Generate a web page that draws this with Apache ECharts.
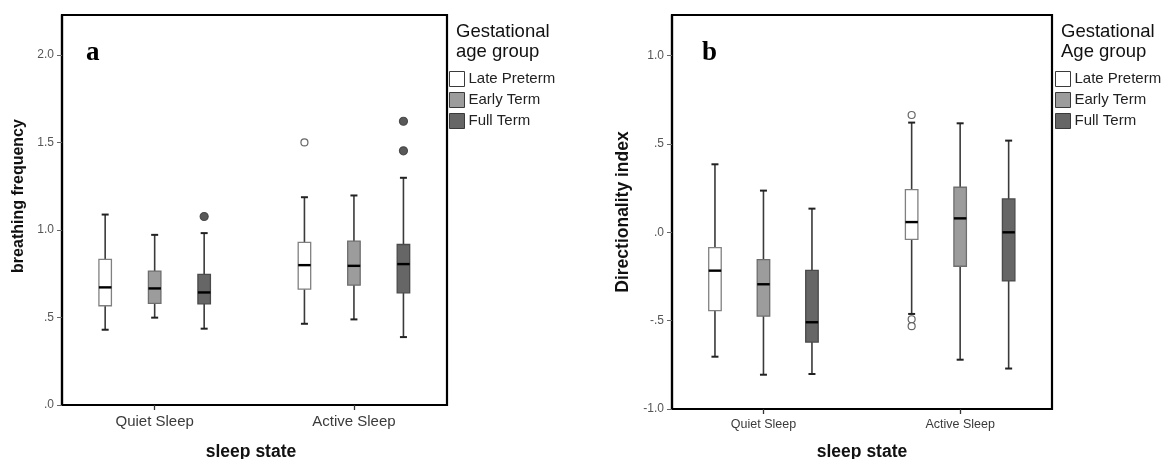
<!DOCTYPE html>
<html>
<head>
<meta charset="utf-8">
<script src="https://cdn.jsdelivr.net/npm/echarts@6/dist/echarts.min.js"></script>
<style>
html,body{margin:0;padding:0;background:#fff;}
#chart{width:1166px;height:459px;}
</style>
</head>
<body>
<div id="chart"></div>
<script>
// ---------- data ----------
const categories = ['Quiet Sleep', 'Active Sleep'];
const groups = ['Late Preterm', 'Early Term', 'Full Term'];

// panel a: breathing frequency, per category [lowWhisker, Q1, median, Q3, highWhisker]
const breathLatePreterm = [[0.430, 0.567, 0.672, 0.832, 1.088], [0.464, 0.662, 0.799, 0.929, 1.187]];
const breathEarlyTerm   = [[0.499, 0.580, 0.666, 0.765, 0.972], [0.489, 0.685, 0.795, 0.936, 1.197]];
const breathFullTerm    = [[0.436, 0.578, 0.643, 0.746, 0.982], [0.388, 0.641, 0.805, 0.917, 1.298]];
// outliers [categoryIndex, value]
const breathOutLatePreterm = [[1, 1.500]];
const breathOutEarlyTerm = [];
const breathOutFullTerm = [[0, 1.077], [1, 1.621], [1, 1.452]];

// panel b: directionality index
const dirLatePreterm = [[-0.704, -0.443, -0.217, -0.087, 0.385], [-0.462, -0.040, 0.058, 0.242, 0.621]];
const dirEarlyTerm   = [[-0.806, -0.474, -0.294, -0.155, 0.236], [-0.721, -0.192, 0.079, 0.255, 0.617]];
const dirFullTerm    = [[-0.802, -0.621, -0.509, -0.215, 0.134], [-0.771, -0.275, 0.000, 0.189, 0.519]];
const dirOutLatePreterm = [[1, 0.664], [1, -0.492], [1, -0.531]];
const dirOutEarlyTerm = [];
const dirOutFullTerm = [];

// axis ticks
const yTicksA = [0, 0.5, 1.0, 1.5, 2.0];
const yTickLabelsA = ['.0', '.5', '1.0', '1.5', '2.0'];
const yTicksB = [-1.0, -0.5, 0, 0.5, 1.0];
const yTickLabelsB = ['-1.0', '-.5', '.0', '.5', '1.0'];

// ---------- styles ----------
const FONT = 'Liberation Sans, Arial, sans-serif';
const fills = ['#ffffff', '#9c9c9c', '#666666'];
const borders = ['#808080', '#6e6e6e', '#4a4a4a'];
const outFill = ['#ffffff', '#9c9c9c', '#595959'];
const outStroke = ['#666666', '#555555', '#4a4a4a'];
const outSize = [7, 7, 8];
const BOX_W = 12.5, CAP_W = 7;
const offsetsA = [-49.5, 0, 49.5];
const offsetsB = [-48.5, 0, 48.5];

function makeRender(offset, fill, border) {
  return function (params, api) {
    const cat = api.value(0);
    const lo = api.coord([cat, api.value(1)]);
    const q1 = api.coord([cat, api.value(2)]);
    const md = api.coord([cat, api.value(3)]);
    const q3 = api.coord([cat, api.value(4)]);
    const hi = api.coord([cat, api.value(5)]);
    const x = lo[0] + offset;
    const wStyle = { stroke: '#3a3a3a', lineWidth: 1.6 };
    return {
      type: 'group',
      children: [
        { type: 'line', shape: { x1: x, y1: hi[1], x2: x, y2: q3[1] }, style: wStyle },
        { type: 'line', shape: { x1: x, y1: q1[1], x2: x, y2: lo[1] }, style: wStyle },
        { type: 'line', shape: { x1: x - CAP_W / 2, y1: hi[1], x2: x + CAP_W / 2, y2: hi[1] }, style: { stroke: '#222', lineWidth: 2 } },
        { type: 'line', shape: { x1: x - CAP_W / 2, y1: lo[1], x2: x + CAP_W / 2, y2: lo[1] }, style: { stroke: '#222', lineWidth: 2 } },
        { type: 'rect', shape: { x: x - BOX_W / 2, y: q3[1], width: BOX_W, height: q1[1] - q3[1] },
          style: { fill: fill, stroke: border, lineWidth: 1.3 } },
        { type: 'line', shape: { x1: x - BOX_W / 2, y1: md[1], x2: x + BOX_W / 2, y2: md[1] }, style: { stroke: '#000', lineWidth: 2.4 } }
      ]
    };
  };
}

const boxDataA = [breathLatePreterm, breathEarlyTerm, breathFullTerm];
const outDataA = [breathOutLatePreterm, breathOutEarlyTerm, breathOutFullTerm];
const boxDataB = [dirLatePreterm, dirEarlyTerm, dirFullTerm];
const outDataB = [dirOutLatePreterm, dirOutEarlyTerm, dirOutFullTerm];

const series = [];
[[boxDataA, outDataA, offsetsA, 0], [boxDataB, outDataB, offsetsB, 1]].forEach(function (panel) {
  const boxData = panel[0], outData = panel[1], offs = panel[2], gi = panel[3];
  groups.forEach(function (g, k) {
    series.push({
      type: 'custom', name: g, xAxisIndex: gi, yAxisIndex: gi,
      itemStyle: { color: fills[k], borderColor: '#444', borderWidth: 1 },
      encode: { x: 0, y: [1, 2, 3, 4, 5] },
      renderItem: makeRender(offs[k], fills[k], borders[k]),
      data: boxData[k].map(function (d, i) { return [i].concat(d); }),
      z: 3
    });
    series.push({
      type: 'scatter', name: g + ' outliers', xAxisIndex: gi, yAxisIndex: gi,
      symbol: 'circle', symbolSize: outSize[k], symbolOffset: [offs[k], 0],
      itemStyle: { color: outFill[k], borderColor: outStroke[k], borderWidth: 1.2, opacity: 1 },
      data: outData[k],
      z: 4
    });
  });
});

function xAxisCfg(gi, fontSize, margin) {
  return {
    type: 'value', gridIndex: gi, min: -0.465, max: 1.467,
    splitLine: { show: false },
    axisLine: { show: true, onZero: false, lineStyle: { color: '#000', width: 2.2 } },
    axisTick: { show: true, customValues: categories.map(function (c, i) { return i; }), length: 5, lineStyle: { color: '#333', width: 1.3 } },
    axisLabel: { customValues: categories.map(function (c, i) { return i; }),
      formatter: function (v) { return categories[Math.round(v)]; },
      fontFamily: FONT, fontSize: fontSize, color: '#3a3a3a', margin: margin }
  };
}
function yAxisCfg(gi, min, max, ticks, labels) {
  return {
    type: 'value', gridIndex: gi, min: min, max: max,
    splitLine: { show: false },
    axisLine: { show: true, onZero: false, lineStyle: { color: '#000', width: 2.2 } },
    axisTick: { show: true, customValues: ticks, length: 5, lineStyle: { color: '#666', width: 1 } },
    axisLabel: { customValues: ticks,
      formatter: function (v) {
        const idx = ticks.findIndex(function (t) { return Math.abs(t - v) < 1e-9; });
        return idx >= 0 ? labels[idx] : '';
      },
      fontFamily: FONT, fontSize: 12, color: '#555', margin: 8 }
  };
}

const legendCommon = {
  orient: 'vertical', data: groups, icon: 'rect', itemWidth: 15, itemHeight: 15, itemGap: 5,
  padding: 0,
  selectedMode: false,
  itemStyle: { borderColor: '#3a3a3a', borderWidth: 1 },
  textStyle: { fontFamily: FONT, fontSize: 15, color: '#222', padding: [0, 0, 0, -1] }
};

const option = {
  backgroundColor: '#ffffff',
  animation: false,
  grid: [
    { left: 62, top: 15, width: 385, height: 390, show: true, borderColor: '#000', borderWidth: 2.2, backgroundColor: 'transparent' },
    { left: 672, top: 15, width: 380, height: 394, show: true, borderColor: '#000', borderWidth: 2.2, backgroundColor: 'transparent' }
  ],
  xAxis: [xAxisCfg(0, 15, 9), xAxisCfg(1, 12.5, 9)],
  yAxis: [yAxisCfg(0, 0, 2.228, yTicksA, yTickLabelsA), yAxisCfg(1, -1.0, 1.23, yTicksB, yTickLabelsB)],
  legend: [
    Object.assign({}, legendCommon, { left: 449, top: 71 }),
    Object.assign({}, legendCommon, { left: 1055, top: 71 })
  ],
  title: [
    { text: 'a', left: 86, top: 40, padding: 0, textStyle: { fontFamily: 'Liberation Serif, serif', fontWeight: 'bold', fontSize: 27, color: '#000' } },
    { text: 'b', left: 702, top: 40, padding: 0, textStyle: { fontFamily: 'Liberation Serif, serif', fontWeight: 'bold', fontSize: 27, color: '#000' } },
    { text: 'Gestational\nage group', left: 456, top: 22, padding: 0, textStyle: { fontFamily: FONT, fontWeight: 'normal', fontSize: 18.5, lineHeight: 20, color: '#111' } },
    { text: 'Gestational\nAge group', left: 1061, top: 22, padding: 0, textStyle: { fontFamily: FONT, fontWeight: 'normal', fontSize: 18.5, lineHeight: 20, color: '#111' } }
  ],
  graphic: [
    { type: 'text', x: 19, y: 196, rotation: Math.PI / 2,
      style: { text: 'breathing frequency', font: 'bold 16px ' + FONT, fill: '#111', textAlign: 'center', textVerticalAlign: 'middle' } },
    { type: 'text', x: 623, y: 212, rotation: Math.PI / 2,
      style: { text: 'Directionality index', font: 'bold 17.5px ' + FONT, fill: '#111', textAlign: 'center', textVerticalAlign: 'middle' } },
    { type: 'text', x: 251, y: 452,
      style: { text: 'sleep state', font: 'bold 17.5px ' + FONT, fill: '#111', textAlign: 'center', textVerticalAlign: 'middle' } },
    { type: 'text', x: 862, y: 452,
      style: { text: 'sleep state', font: 'bold 17.5px ' + FONT, fill: '#111', textAlign: 'center', textVerticalAlign: 'middle' } }
  ],
  series: series
};

const chart = echarts.init(document.getElementById('chart'), null, { renderer: 'canvas' });
chart.setOption(option);
</script>
</body>
</html>
